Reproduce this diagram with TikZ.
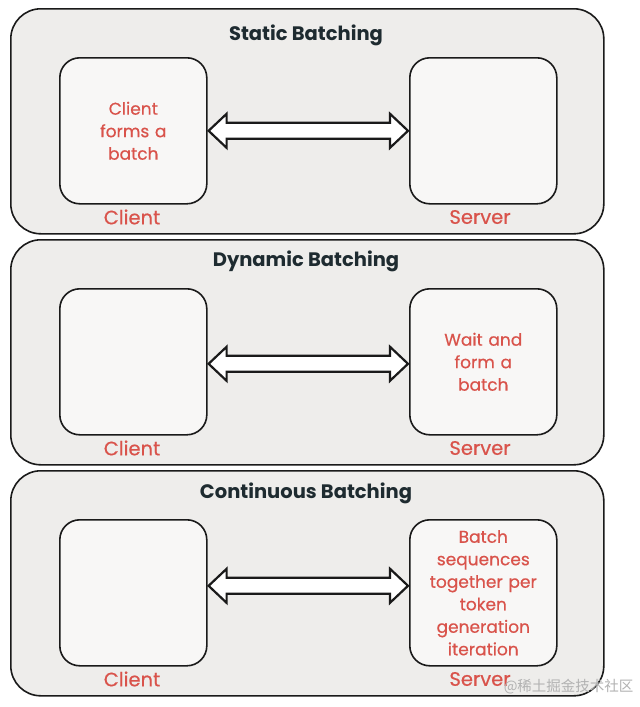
\documentclass[tikz,border=0pt]{standalone}
\usepackage{fontspec}
\setmainfont{Poppins}
\newfontfamily\medfont[FakeBold=0.5]{Poppins}
\newfontfamily\cjk{Noto Sans CJK SC}
\usetikzlibrary{calc}
\definecolor{panelfill}{HTML}{EEEDEB}
\definecolor{boxfill}{HTML}{F8F7F6}
\definecolor{redtxt}{HTML}{D9534B}
\definecolor{titletxt}{HTML}{1E2B30}
\definecolor{edge}{HTML}{1A1A1A}
\tikzset{
  panel/.style={draw=edge, line width=1.6pt, fill=panelfill, rounded corners=30pt, minimum width=593pt, minimum height=225pt, inner sep=0pt},
  inbox/.style={draw=edge, line width=1.6pt, fill=boxfill, rounded corners=20pt, minimum width=147pt, minimum height=146pt, inner sep=2pt, align=center, text=redtxt, font=\medfont\fontsize{17}{22.5}\selectfont, text width=143pt},
  ttl/.style={text=titletxt, font=\fontsize{19.5}{22}\selectfont\bfseries},
  lbl/.style={text=redtxt, font=\medfont\fontsize{19.5}{22}\selectfont},
  arr/.style={draw=edge, line width=2.2pt, fill=white, line join=miter}
}
\newcommand{\panelrow}[7]{%
  % #1 id, #2 top y, #3 title, #4 client text, #5 server text, #6 title offset, #7 arrow offset
  \node[panel, anchor=north west] (p#1) at (10,#2) {};
  \node[ttl] (t#1) at (306,#2+#6) {#3};
  \node[inbox, anchor=north west] (c#1) at (59,#2+49) {#4};
  \node[inbox, anchor=north west] (s#1) at (409,#2+49) {#5};
  \node[lbl] (cl#1) at (132,#2+209) {Client};
  \node[lbl] (sl#1) at (480,#2+209) {Server};
  \draw[arr] let \p1=($(c#1.east)+(0,#7)$), \p2=($(s#1.west)+(0,#7)$) in
    (\x1+1pt,\y1) -- (\x1+19pt,\y1+17pt) -- (\x1+19pt,\y1+8pt) -- (\x2-19pt,\y2+8pt) -- (\x2-19pt,\y2+17pt)
    -- (\x2-1pt,\y2) -- (\x2-19pt,\y2-17pt) -- (\x2-19pt,\y2-8pt) -- (\x1+19pt,\y1-8pt) -- (\x1+19pt,\y1-17pt) -- cycle;
}
\begin{document}
\begin{tikzpicture}[x=1pt,y=-1pt]
\useasboundingbox[fill=white] (0,0) rectangle (640,707);
\panelrow{1}{8}{Static Batching}{Client\\forms a\\batch}{}{27}{0}
\panelrow{2}{239}{Dynamic Batching}{}{Wait and\\form a\\batch}{22}{2}
\panelrow{3}{470}{Continuous Batching}{}{Batch\\sequences\\together per\\token\\generation\\iteration}{23}{-7}
\node[text=black!30, font=\cjk\fontsize{14.5}{16}\selectfont, anchor=east] (wm) at (637,687) {@稀土掘金技术社区};
\end{tikzpicture}
\end{document}
